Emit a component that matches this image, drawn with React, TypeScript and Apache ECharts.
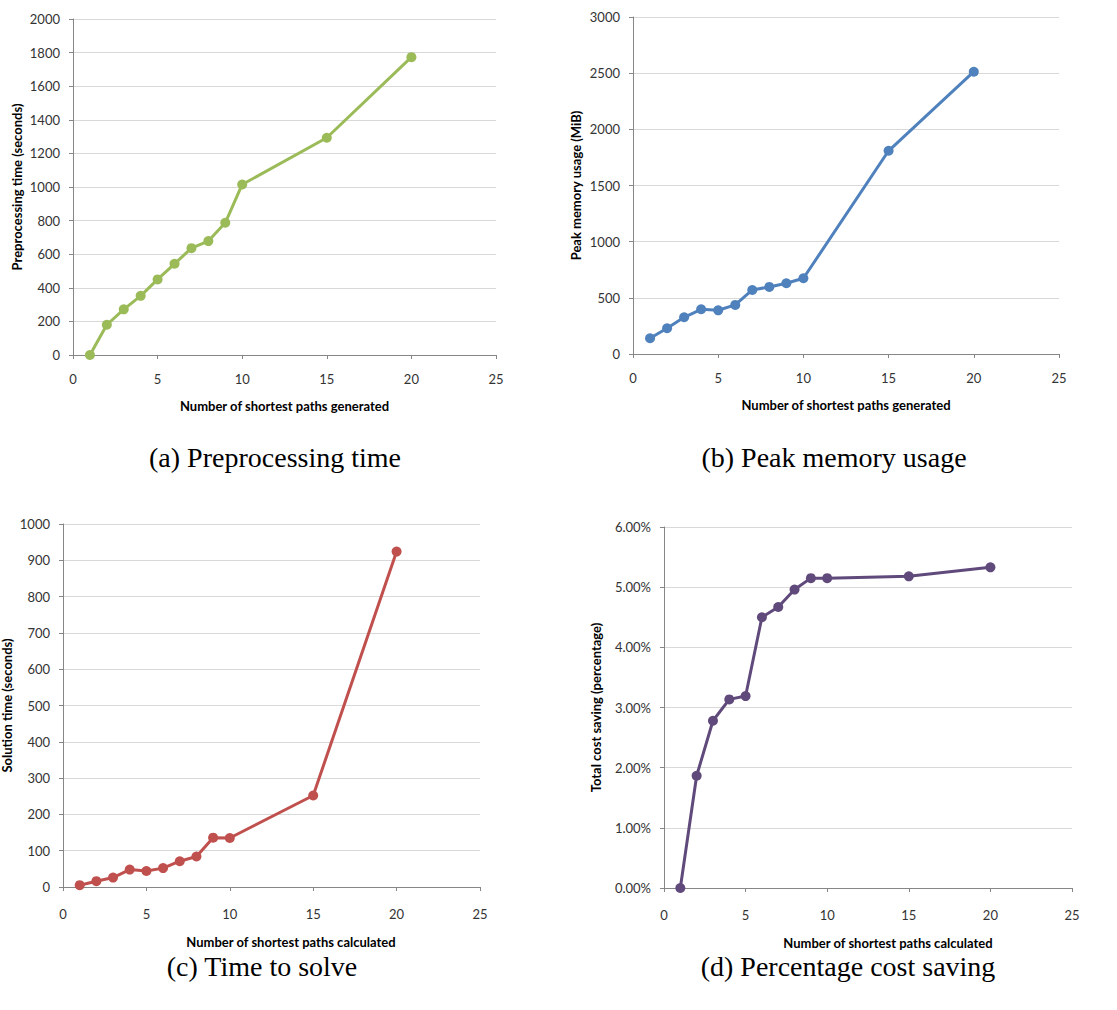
import React, { useEffect, useRef } from "react";
import * as echarts from "echarts";

const xPaths = [1, 2, 3, 4, 5, 6, 7, 8, 9, 10, 15, 20];
const preprocessingTime = [0, 180, 272, 352, 450, 543, 636, 678, 787, 1015, 1293, 1773];
const peakMemory = [140, 229, 327, 398, 389, 437, 570, 597, 630, 674, 1809, 2513];
const solutionTime = [5, 16, 26, 48, 44, 52, 71, 84, 136, 135, 252, 924];
const costSaving = [0, 1.865, 2.78, 3.135, 3.19, 4.5, 4.67, 4.96, 5.15, 5.15, 5.18, 5.33];

const captions = ["(a) Preprocessing time", "(b) Peak memory usage", "(c) Time to solve", "(d) Percentage cost saving"];
const xTitles = ["Number of shortest paths generated", "Number of shortest paths generated", "Number of shortest paths calculated", "Number of shortest paths calculated"];
const yTitles = ["Preprocessing time (seconds)", "Peak memory usage (MiB)", "Solution time (seconds)", "Total cost saving (percentage)"];
const colors = ["#9BBB59", "#4F81BD", "#C0504D", "#604A7B"];

export default function App() {
  const ref = useRef<HTMLDivElement>(null);
  useEffect(() => {
    document.body.style.margin = "0";
    const chart = echarts.init(ref.current!, null, { renderer: "svg" });
    const grids = [
      { left: 73, top: 19, width: 423, height: 336, outerBoundsMode: "none", containLabel: false },
      { left: 633, top: 17, width: 426, height: 337, outerBoundsMode: "none", containLabel: false },
      { left: 63, top: 524, width: 417, height: 363, outerBoundsMode: "none", containLabel: false },
      { left: 664, top: 527, width: 408, height: 361, outerBoundsMode: "none", containLabel: false },
    ];
    const yCfg = [
      { max: 2000, interval: 200, fmt: (v: number) => String(v), gap: 50 },
      { max: 3000, interval: 500, fmt: (v: number) => String(v), gap: 51 },
      { max: 1000, interval: 100, fmt: (v: number) => String(v), gap: 50 },
      { max: 6, interval: 1, fmt: (v: number) => v.toFixed(2) + "%", gap: 62 },
    ];
    const xShift = [0, 0, 39, 40];
    const xLabelMargin = [17, 17, 20, 20];
    const xNameGap = [44, 44, 48, 48];
    const datasets = [preprocessingTime, peakMemory, solutionTime, costSaving];
    const axisGray = "#868686";
    const tickFont = { fontFamily: "Lato", fontSize: 13, color: "#333" };
    const titleFont = { fontFamily: "Lato", fontSize: 13, fontWeight: "bold" as const, color: "#000" };

    const option: any = {
      animation: false,
      backgroundColor: "#fff",
      grid: grids,
      xAxis: grids.map((_, i) => ({
        type: "value",
        gridIndex: i,
        min: 0,
        max: 25,
        interval: 5,
        name: xTitles[i],
        nameLocation: "middle",
        nameGap: xNameGap[i],
        nameMoveOverlap: false,
        nameTextStyle: { ...titleFont, padding: [0, 0, 0, xShift[i]] },
        axisLine: { show: true, lineStyle: { color: axisGray, width: 1 } },
        axisTick: { show: true, length: 4, lineStyle: { color: axisGray } },
        axisLabel: { ...tickFont, margin: xLabelMargin[i] },
        splitLine: { show: false },
      })),
      yAxis: grids.map((_, i) => ({
        type: "value",
        gridIndex: i,
        min: 0,
        max: yCfg[i].max,
        interval: yCfg[i].interval,
        name: yTitles[i],
        nameLocation: "middle",
        nameGap: yCfg[i].gap,
        nameRotate: 90,
        nameMoveOverlap: false,
        nameTextStyle: titleFont,
        axisLine: { show: true, lineStyle: { color: axisGray, width: 1 } },
        axisTick: { show: true, length: 4, lineStyle: { color: axisGray } },
        axisLabel: { ...tickFont, margin: 13, formatter: yCfg[i].fmt },
        splitLine: { show: true, lineStyle: { color: "#D9D9D9", width: 1 } },
      })),
      series: datasets.map((d, i) => ({
        type: "line",
        xAxisIndex: i,
        yAxisIndex: i,
        data: xPaths.map((x, k) => [x, d[k]]),
        symbol: "circle",
        symbolSize: 10,
        showSymbol: true,
        lineStyle: { color: colors[i], width: 3 },
        itemStyle: { color: colors[i] },
        clip: false,
      })),
      graphic: captions.map((c, i) => ({
        type: "text",
        x: [275, 834, 262, 848][i],
        y: [457, 457, 966, 966][i],
        style: {
          text: c,
          fontFamily: "Liberation Serif",
          fontSize: 28,
          fill: "#000",
          textAlign: "center",
          textVerticalAlign: "middle",
        },
      })),
    };
    chart.setOption(option);
    return () => chart.dispose();
  }, []);
  return <div ref={ref} style={{ width: 1117, height: 1010 }} />;
}
